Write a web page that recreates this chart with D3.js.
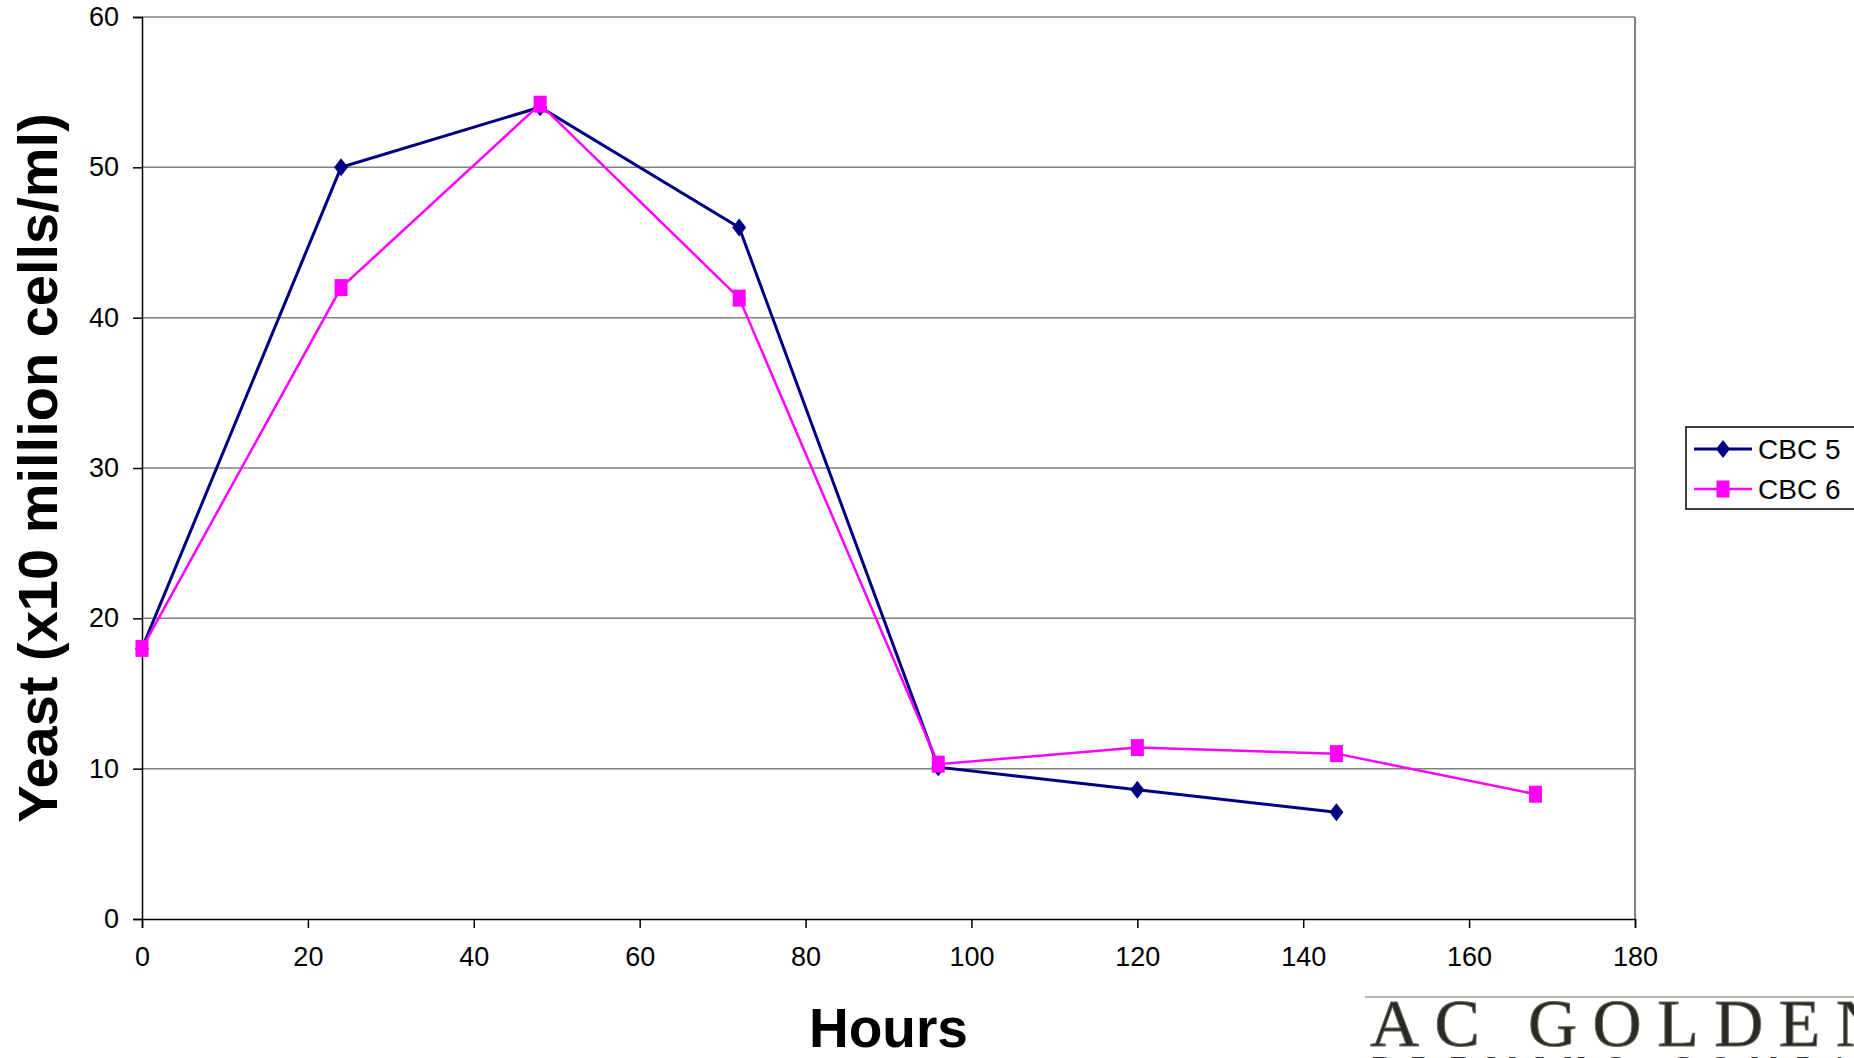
<!DOCTYPE html>
<html>
<head>
<meta charset="utf-8">
<script src="https://cdn.jsdelivr.net/npm/d3@7"></script>
<style>
  body { margin: 0; background: #fff; }
  svg { display: block; font-family: Arial, "Liberation Sans", sans-serif; }
</style>
</head>
<body>
<svg id="chart"></svg>
<script>
var WIDTH = 1854;
var HEIGHT = 1058;

// data
var hours = [0, 24, 48, 72, 96, 120, 144, 168];
var cbc5 = [18, 50, 54, 46, 10.1, 8.6, 7.1];
var cbc6 = [18, 42, 54.2, 41.3, 10.3, 11.4, 11.0, 8.3];
var seriesNames = ["CBC 5", "CBC 6"];
var xTicks = [0, 20, 40, 60, 80, 100, 120, 140, 160, 180];
var yTicks = [0, 10, 20, 30, 40, 50, 60];

var svg = d3.select("#chart")
    .attr("width", WIDTH)
    .attr("height", HEIGHT);

var x = d3.scaleLinear().domain([0, 180]).range([142, 1635]);
var y = d3.scaleLinear().domain([0, 60]).range([919, 17]);

//gridlines
svg.append("g")
    .selectAll("line")
    .data(yTicks.slice(1))
    .enter()
    .append("line")
    .attr("x1", x(0))
    .attr("x2", x(180))
    .attr("y1", function(d) { return y(d); })
    .attr("y2", function(d) { return y(d); })
    .attr("stroke", "#808080")
    .attr("stroke-width", 1.5);

//right border of plot area
svg.append("line")
    .attr("x1", x(180)).attr("x2", x(180))
    .attr("y1", y(60)).attr("y2", y(0))
    .attr("stroke", "#808080")
    .attr("stroke-width", 2);

//axes
var yAxis = svg.append("g")
    .attr("transform", "translate(" + x(0) + ",0)")
    .call(d3.axisLeft(y).tickValues(yTicks).tickSize(9).tickPadding(14));

var xAxis = svg.append("g")
    .attr("transform", "translate(0," + y(0) + ")")
    .call(d3.axisBottom(x).tickValues(xTicks).tickSize(9).tickPadding(19));

[xAxis, yAxis].forEach(function(ax) {
    ax.selectAll("path").attr("stroke", "#000").attr("stroke-width", 1.5);
    ax.selectAll("line").attr("stroke", "#000").attr("stroke-width", 1.5);
    ax.selectAll("text")
        .attr("font-size", 27)
        .attr("font-family", "Arial, 'Liberation Sans', sans-serif")
        .attr("fill", "#000");
});

//axis titles
svg.append("text")
    .attr("x", (x(0) + x(180)) / 2)
    .attr("y", 1047)
    .attr("text-anchor", "middle")
    .attr("font-size", 55)
    .attr("font-weight", "bold")
    .text("Hours");

svg.append("text")
    .attr("transform", "translate(57," + (y(60) + y(0)) / 2 + ") rotate(-90)")
    .attr("text-anchor", "middle")
    .attr("font-size", 56)
    .attr("font-weight", "bold")
    .text("Yeast (x10 million cells/ml)");

//series
var series = [
    { name: seriesNames[0], values: cbc5, color: "#000080", width: 3, marker: "diamond" },
    { name: seriesNames[1], values: cbc6, color: "#FF00FF", width: 2.5, marker: "square" }
];

var line = d3.line()
    .x(function(d) { return x(d.h); })
    .y(function(d) { return y(d.v); });

function drawMarker(g, type, color) {
    if (type === "diamond") {
        g.append("path").attr("d", "M0,-9L7,0L0,9L-7,0Z").attr("fill", color);
    } else {
        g.append("rect").attr("x", -6.5).attr("y", -8.5).attr("width", 13).attr("height", 17).attr("fill", color);
    }
}

series.forEach(function(s) {
    var pts = s.values.map(function(v, i) { return { h: hours[i], v: v }; });
    svg.append("path")
        .datum(pts)
        .attr("d", line)
        .attr("fill", "none")
        .attr("stroke", s.color)
        .attr("stroke-width", s.width);
});

series.forEach(function(s) {
    var pts = s.values.map(function(v, i) { return { h: hours[i], v: v }; });
    svg.append("g")
        .selectAll("g")
        .data(pts)
        .enter()
        .append("g")
        .attr("transform", function(d) { return "translate(" + x(d.h) + "," + y(d.v) + ")"; })
        .each(function() { drawMarker(d3.select(this), s.marker, s.color); });
});

//legend
var legend = svg.append("g");
legend.append("rect")
    .attr("x", 1686).attr("y", 427)
    .attr("width", 175).attr("height", 82)
    .attr("fill", "#fff")
    .attr("stroke", "#000")
    .attr("stroke-width", 1.5);

series.forEach(function(s, i) {
    var ly = 449 + i * 40;
    legend.append("line")
        .attr("x1", 1694).attr("x2", 1752)
        .attr("y1", ly).attr("y2", ly)
        .attr("stroke", s.color)
        .attr("stroke-width", s.width);
    var m = legend.append("g").attr("transform", "translate(1723," + ly + ")");
    drawMarker(m, s.marker, s.color);
    legend.append("text")
        .attr("x", 1758)
        .attr("y", ly + 10)
        .attr("font-size", 28)
        .text(s.name);
});

//logo at bottom right
var logo = svg.append("g");
logo.append("line")
    .attr("x1", 1365).attr("x2", WIDTH)
    .attr("y1", 997).attr("y2", 997)
    .attr("stroke", "#999")
    .attr("stroke-width", 1.5);
logo.append("text")
    .attr("x", 1370)
    .attr("y", 1046)
    .attr("font-family", "'Liberation Serif', 'DejaVu Serif', serif")
    .attr("font-size", 68)
    .attr("fill", "#2a2a24")
    .attr("stroke", "#6b6b60")
    .attr("stroke-width", 1)
    .attr("textLength", 515)
    .attr("lengthAdjust", "spacing")
    .text("AC GOLDEN");
logo.append("text")
    .attr("x", 1372)
    .attr("y", 1076)
    .attr("font-family", "'Liberation Serif', 'DejaVu Serif', serif")
    .attr("font-size", 30)
    .attr("fill", "#333")
    .attr("textLength", 560)
    .attr("lengthAdjust", "spacing")
    .text("BREWING COMPANY");
</script>
</body>
</html>
